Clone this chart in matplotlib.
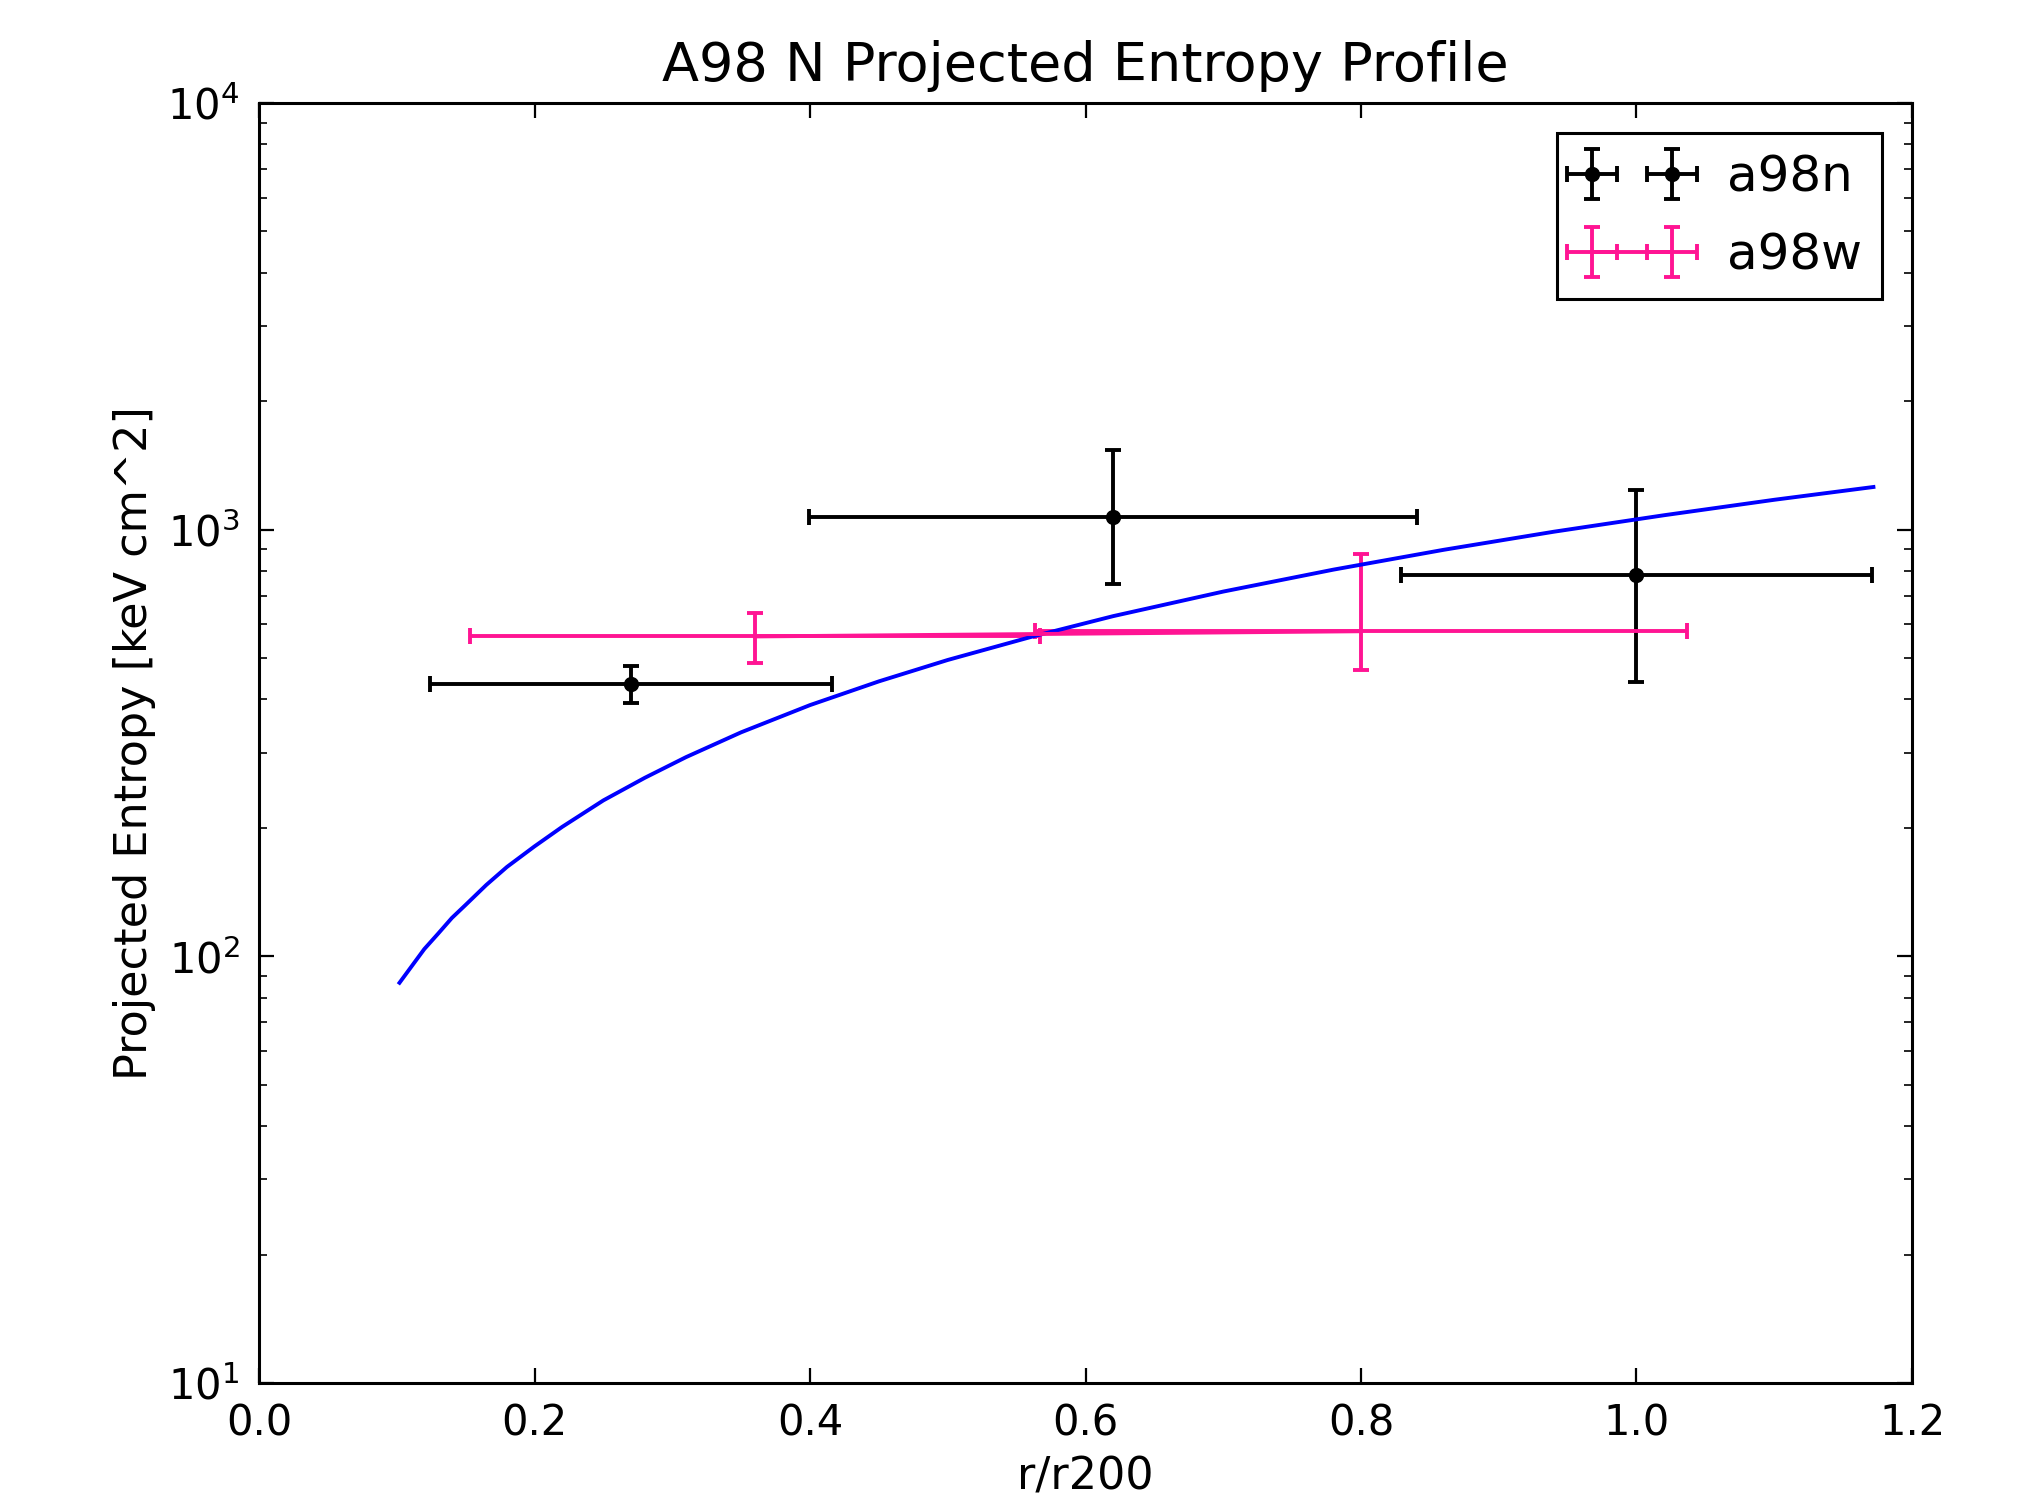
import numpy as np
import matplotlib
matplotlib.use('Agg')
from matplotlib import pyplot as plt

# a98n points
n_r = [0.27, 0.62, 1.00]
n_k = [435, 1072, 785]
n_rerr = [0.146, 0.221, 0.171]
n_klo = [43, 326, 345]
n_khi = [45, 468, 455]

# a98w points
w_r = [0.36, 0.80]
w_k = [562, 578]
w_rerr = [0.207, 0.237]
w_klo = [74, 110]
w_khi = [76, 297]

# baseline curve
base_r = [0.102, 0.11, 0.12, 0.13, 0.14, 0.15, 0.165, 0.18, 0.20, 0.22, 0.25,
          0.28, 0.31, 0.35, 0.40, 0.45, 0.50, 0.56, 0.62, 0.70, 0.78, 0.86,
          0.94, 1.02, 1.10, 1.172]
base_k = [86.7, 94, 104, 113, 123, 132, 147, 162, 181, 201, 232,
          262, 293, 335, 388, 441, 495, 560, 627, 716, 806, 897,
          989, 1081, 1175, 1259]

plt.rcParams['font.family'] = 'DejaVu Sans'
plt.rcParams['xtick.direction'] = 'in'
plt.rcParams['ytick.direction'] = 'in'
plt.rcParams['xtick.top'] = True
plt.rcParams['ytick.right'] = True
plt.rcParams['xtick.major.size'] = 5.5
plt.rcParams['ytick.major.size'] = 5.5
plt.rcParams['xtick.minor.size'] = 3
plt.rcParams['ytick.minor.size'] = 3
plt.rcParams['xtick.major.pad'] = 7
plt.rcParams['ytick.major.pad'] = 7
plt.rcParams['axes.linewidth'] = 1.1

dpi = 200
fig = plt.figure(figsize=(2021 / dpi, 1508 / dpi), dpi=dpi, facecolor='white')
ax = fig.add_axes([259 / 2021, 1 - 1383 / 1508, 1653 / 2021, 1280 / 1508])

lw = 1.4
ax.errorbar(n_r, n_k, xerr=n_rerr, yerr=[n_klo, n_khi], fmt='k.', ecolor='k',
            markersize=9, capsize=3, elinewidth=lw, capthick=lw, label='a98n')
ax.errorbar(w_r, w_k, xerr=w_rerr, yerr=[w_klo, w_khi], fmt='-', color='#ff1493',
            lw=lw, capsize=3, elinewidth=lw, capthick=lw, label='a98w')
ax.plot(base_r, base_k, color='b', lw=lw)

ax.set_yscale('log')
ax.set_xlim(0.0, 1.2)
ax.set_ylim(10, 1e4)
ax.set_xticks(np.arange(0, 1.21, 0.2))
ax.tick_params(labelsize=15)

ax.set_title('A98 N Projected Entropy Profile', fontsize=19.5, pad=8)
ax.set_xlabel('r/r200', fontsize=16)
ax.set_ylabel('Projected Entropy [keV cm^2]', fontsize=16)

leg = ax.legend(loc='upper right', numpoints=2, fontsize=18, fancybox=False,
                framealpha=1, edgecolor='k', borderaxespad=0.6,
                labelspacing=0.6, handlelength=2.2)
leg.get_frame().set_linewidth(1.1)

fig.savefig('out.png', dpi=dpi, facecolor='white')
